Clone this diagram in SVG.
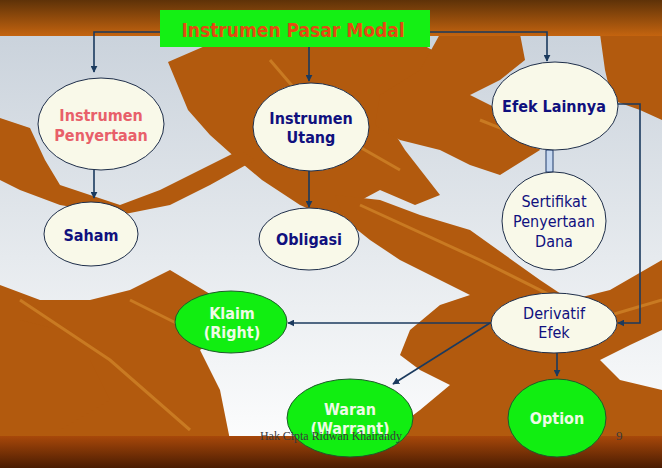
<svg xmlns="http://www.w3.org/2000/svg" width="662" height="468" viewBox="0 0 662 468">
<defs>
<linearGradient id="bg" x1="0" y1="0" x2="0" y2="1">
<stop offset="0" stop-color="#c6cfd9"/>
<stop offset="0.55" stop-color="#e6eaee"/>
<stop offset="1" stop-color="#ffffff"/>
</linearGradient>
<linearGradient id="top" x1="0" y1="0" x2="0" y2="1">
<stop offset="0" stop-color="#5e3208"/>
<stop offset="1" stop-color="#c4640f"/>
</linearGradient>
<linearGradient id="bot" x1="0" y1="0" x2="0" y2="1">
<stop offset="0" stop-color="#a8480a"/>
<stop offset="1" stop-color="#4a1c02"/>
</linearGradient>
<marker id="ah" viewBox="0 0 10 10" refX="9" refY="5" markerWidth="7" markerHeight="7" orient="auto" markerUnits="userSpaceOnUse">
<path d="M0,0 L10,5 L0,10 Z" fill="#1b3a5e"/>
</marker>
</defs>
<style>
.leaf{fill:#b25a0e}
.leafd{fill:#9c470a}
.vein{fill:none;stroke:#c97a22;stroke-width:3}
.conn{fill:none;stroke:#1b3a5e;stroke-width:1.6}
.cream{fill:#f9f9e9;stroke:#1e2e4a;stroke-width:1}
.green{fill:#11ee11;stroke:#1e5a2a;stroke-width:1}
.t{font-family:"DejaVu Sans Condensed","DejaVu Sans",sans-serif;text-anchor:middle}
.b{font-weight:bold}
.navy{fill:#10107e}
.pink{fill:#e8606a}
.white{fill:#eefbe6}
</style>
<rect width="662" height="468" fill="url(#bg)"/>
<g id="background-leaves">
<path class="leaf" d="M168,62 L205,46 L300,44 L425,46 L450,60 L415,85 L385,118 L405,150 L440,195 L415,205 L380,190 L352,205 L338,222 L300,205 L262,180 L238,160 L210,135 L188,110 Z"/>
<path class="leaf" d="M0,118 L30,128 L45,160 L60,185 L120,205 L160,190 L200,170 L240,150 L255,160 L210,185 L170,205 L120,215 L60,205 L20,190 L0,180 Z"/>
<path class="leaf" d="M440,34 L520,34 L525,60 L500,80 L470,95 L520,120 L540,150 L500,175 L470,165 L440,150 L400,140 L375,125 L380,95 L420,70 Z"/>
<path class="leaf" d="M600,34 L662,34 L662,120 L640,110 L612,100 L605,70 Z"/>
<path class="leaf" d="M335,195 L380,200 L420,215 L470,230 L505,255 L540,280 L570,300 L610,290 L662,260 L662,330 L630,345 L600,360 L620,380 L662,390 L662,440 L380,440 L420,410 L450,385 L420,370 L400,355 L410,330 L440,305 L470,295 L440,280 L400,260 L370,240 L345,220 Z"/>
<path class="leaf" d="M0,285 L40,300 L90,300 L130,290 L170,270 L220,300 L240,320 L200,350 L220,390 L230,440 L0,440 Z"/>
<path class="leaf" d="M20,320 L60,330 L90,360 L110,400 L60,430 L20,410 Z"/>
<path class="vein" d="M20,300 L110,360 L190,430"/>
<path class="vein" d="M130,300 L170,320 L220,345"/>
<path class="vein" d="M270,60 L330,130 L400,170"/>
<path class="vein" d="M360,205 L480,260 L600,320"/>
<path class="vein" d="M560,330 L662,300"/>
<path class="vein" d="M480,120 L530,140"/>
</g>
<rect x="0" y="0" width="662" height="36" fill="url(#top)"/>
<rect x="0" y="436" width="662" height="32" fill="url(#bot)"/>
<g id="connectors">
<path class="conn" d="M160,32 H94 V72" marker-end="url(#ah)"/>
<path class="conn" d="M309,47 V81" marker-end="url(#ah)"/>
<path class="conn" d="M430,32 H547 V61" marker-end="url(#ah)"/>
<path class="conn" d="M94,170 V198" marker-end="url(#ah)"/>
<path class="conn" d="M309,171 V207" marker-end="url(#ah)"/>
<rect x="546" y="150" width="7" height="22" fill="#c6d8f0" stroke="#1e3a6a" stroke-width="1"/>
<path class="conn" d="M618,104 H640 V323 H618" marker-end="url(#ah)"/>
<path class="conn" d="M491,323 H288" marker-end="url(#ah)"/>
<path class="conn" d="M490,323 L393,384" marker-end="url(#ah)"/>
<path class="conn" d="M557,353 V376" marker-end="url(#ah)"/>
</g>
<g id="instrumen-pasar-modal">
<rect x="160" y="10" width="270" height="37" fill="#14f014"/>
<text class="t b" x="293" y="37" font-size="19" fill="#e44a12">Instrumen Pasar Modal</text>
</g>
<g id="instrumen-penyertaan">
<ellipse class="cream" cx="101" cy="124" rx="63" ry="46"/>
<text class="t b pink" x="101" y="121" font-size="16">Instrumen</text>
<text class="t b pink" x="101" y="141" font-size="16">Penyertaan</text>
</g>
<g id="instrumen-utang">
<ellipse class="cream" cx="311" cy="127" rx="58" ry="44"/>
<text class="t b navy" x="311" y="124" font-size="16">Instrumen</text>
<text class="t b navy" x="311" y="143" font-size="16">Utang</text>
</g>
<g id="efek-lainnya">
<ellipse class="cream" cx="555" cy="106" rx="63" ry="44"/>
<text class="t b navy" x="554" y="112" font-size="16">Efek Lainnya</text>
</g>
<g id="saham">
<ellipse class="cream" cx="91" cy="234" rx="47" ry="32"/>
<text class="t b navy" x="91" y="241" font-size="16">Saham</text>
</g>
<g id="obligasi">
<ellipse class="cream" cx="309" cy="239" rx="50" ry="31"/>
<text class="t b navy" x="309" y="245" font-size="16">Obligasi</text>
</g>
<g id="sertifikat-penyertaan-dana">
<ellipse class="cream" cx="554" cy="221" rx="52" ry="49"/>
<text class="t navy" x="554" y="207" font-size="16">Sertifikat</text>
<text class="t navy" x="554" y="227" font-size="16">Penyertaan</text>
<text class="t navy" x="554" y="247" font-size="16">Dana</text>
</g>
<g id="derivatif-efek">
<ellipse class="cream" cx="554" cy="323" rx="63" ry="30"/>
<text class="t navy" x="554" y="319" font-size="16">Derivatif</text>
<text class="t navy" x="554" y="338" font-size="16">Efek</text>
</g>
<g id="klaim">
<ellipse class="green" cx="231" cy="322" rx="56" ry="31"/>
<text class="t b white" x="232" y="319" font-size="16">Klaim</text>
<text class="t b white" x="232" y="338" font-size="16">(Right)</text>
</g>
<g id="waran">
<ellipse class="green" cx="350" cy="418" rx="63" ry="39"/>
<text class="t b white" x="350" y="415" font-size="16">Waran</text>
<text class="t b white" x="350" y="434" font-size="16">(Warrant)</text>
</g>
<g id="option">
<ellipse class="green" cx="557" cy="418" rx="49" ry="39"/>
<text class="t b white" x="557" y="424" font-size="16">Option</text>
</g>
<g id="footer">
<text x="260" y="440" font-family="'Liberation Serif',serif" font-size="13" fill="#3a3a3a" textLength="142" lengthAdjust="spacingAndGlyphs">Hak Cipta Ridwan Khairandy</text>
<text x="616" y="440" font-family="'Liberation Serif',serif" font-size="13" fill="#3a3a3a">9</text>
</g>
</svg>
